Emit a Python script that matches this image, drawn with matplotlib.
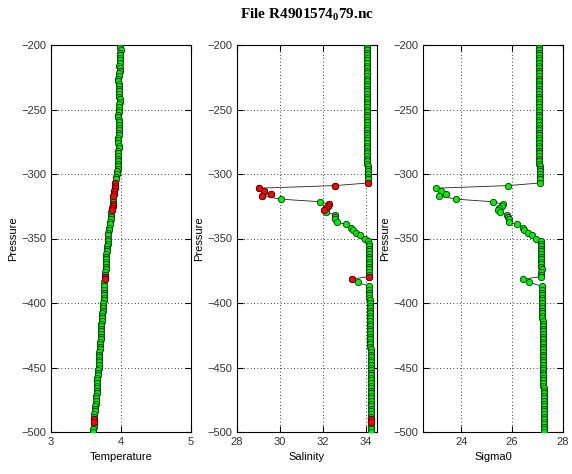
import matplotlib
matplotlib.use('Agg')
import matplotlib.pyplot as plt
import numpy as np

# pressure levels (dbar, positive down)
pres = [200, 202, 204, 206, 208, 210, 212, 214, 216, 218, 220,
        222, 224, 226, 228, 230, 232, 234, 236, 238, 240, 242,
        244, 246, 248, 250, 252, 254, 256, 258, 260, 262, 264,
        266, 268, 270, 272, 274, 276, 278, 280, 282, 284, 286,
        288, 290, 292, 294, 296, 298, 300, 302, 304,
        307, 309, 311, 313.5, 315.5, 317, 319.5, 321.5, 323.5, 325, 326.5, 328,
        329.5, 331.5, 333, 335, 337.5, 339, 341.5, 343.5, 345.5, 347.5, 350, 352,
        354, 356, 358, 360, 362, 364, 366, 368, 370, 372, 374, 376, 378,
        379.5, 381.5, 384, 387,
        390, 392, 394, 396, 398, 400, 402, 404, 406, 408, 410,
        412, 414, 416, 418, 420, 422, 424, 426, 428, 430, 432,
        434, 436, 438, 440, 442, 444, 446, 448, 450, 452, 454,
        456, 458, 460, 462, 464, 466, 468, 470, 472, 474, 476,
        478, 480, 482, 484, 486, 488, 490, 492, 494, 496, 498, 500]

temp = [3.99, 3.99, 4.00, 3.99, 3.98, 3.99, 3.98, 3.98, 3.97, 3.98, 3.98,
        3.97, 3.97, 3.96, 3.96, 3.97, 3.97, 3.97, 3.97, 3.97, 3.97, 3.98,
        3.98, 3.97, 3.97, 3.97, 3.97, 3.96, 3.96, 3.97, 3.97, 3.97, 3.97,
        3.97, 3.97, 3.97, 3.96, 3.96, 3.96, 3.97, 3.97, 3.96, 3.96, 3.96,
        3.96, 3.96, 3.95, 3.95, 3.95, 3.94, 3.94, 3.93, 3.93,
        3.92, 3.91, 3.91, 3.90, 3.90, 3.89, 3.89, 3.88, 3.88, 3.88, 3.87, 3.87,
        3.86, 3.86, 3.85, 3.85, 3.84, 3.84, 3.83, 3.83, 3.82, 3.82, 3.81, 3.81,
        3.81, 3.80, 3.80, 3.80, 3.79, 3.79, 3.79, 3.78, 3.78, 3.78, 3.78, 3.77, 3.77,
        3.77, 3.77, 3.76, 3.76,
        3.76, 3.75, 3.75, 3.75, 3.75, 3.74, 3.74, 3.74, 3.74, 3.73, 3.73,
        3.73, 3.73, 3.72, 3.72, 3.72, 3.72, 3.71, 3.71, 3.71, 3.70, 3.70,
        3.70, 3.70, 3.69, 3.69, 3.69, 3.68, 3.68, 3.68, 3.68, 3.67, 3.67,
        3.67, 3.66, 3.66, 3.66, 3.66, 3.65, 3.65, 3.65, 3.64, 3.64, 3.64,
        3.64, 3.63, 3.63, 3.63, 3.62, 3.62, 3.62, 3.61, 3.61, 3.61, 3.60, 3.60]

psal = [34.03, 34.03, 34.02, 34.03, 34.03, 34.04, 34.03, 34.03, 34.03, 34.02, 34.03,
        34.03, 34.03, 34.04, 34.04, 34.03, 34.03, 34.03, 34.03, 34.03, 34.04, 34.03,
        34.03, 34.03, 34.03, 34.04, 34.04, 34.03, 34.03, 34.04, 34.04, 34.04, 34.04,
        34.04, 34.05, 34.05, 34.04, 34.04, 34.04, 34.05, 34.05, 34.05, 34.05, 34.05,
        34.05, 34.05, 34.05, 34.06, 34.06, 34.06, 34.06, 34.07, 34.07,
        34.07, 32.53, 29.02, 29.26, 29.57, 29.18, 30.03, 31.85, 32.28, 32.22, 32.12, 32.05,
        32.14, 32.53, 32.56, 32.56, 32.64, 33.06, 33.30, 33.37, 33.53, 33.73, 33.92, 34.10,
        34.11, 34.12, 34.12, 34.12, 34.13, 34.13, 34.13, 34.12, 34.13, 34.13, 34.14, 34.13, 34.13,
        34.13, 33.33, 33.60, 34.14,
        34.14, 34.15, 34.15, 34.15, 34.16, 34.16, 34.16, 34.16, 34.17, 34.17, 34.17,
        34.17, 34.18, 34.18, 34.18, 34.18, 34.19, 34.19, 34.19, 34.19, 34.19, 34.19,
        34.19, 34.20, 34.20, 34.20, 34.20, 34.20, 34.20, 34.20, 34.21, 34.21, 34.21,
        34.21, 34.21, 34.21, 34.21, 34.21, 34.22, 34.22, 34.22, 34.22, 34.22, 34.22,
        34.22, 34.22, 34.22, 34.23, 34.22, 34.22, 34.23, 34.23, 34.23, 34.23, 34.23, 34.23]

sigma0 = [27.05, 27.05, 27.04, 27.05, 27.05, 27.05, 27.05, 27.05, 27.05, 27.05, 27.05,
          27.05, 27.05, 27.06, 27.06, 27.05, 27.05, 27.05, 27.05, 27.05, 27.06, 27.05,
          27.05, 27.05, 27.05, 27.06, 27.06, 27.06, 27.06, 27.06, 27.06, 27.06, 27.06,
          27.06, 27.07, 27.07, 27.06, 27.06, 27.06, 27.07, 27.07, 27.07, 27.07, 27.07,
          27.07, 27.07, 27.07, 27.08, 27.08, 27.08, 27.08, 27.09, 27.09,
          27.09, 25.82, 23.01, 23.20, 23.41, 23.14, 23.80, 25.24, 25.66, 25.60, 25.50, 25.46,
          25.53, 25.79, 25.82, 25.86, 25.88, 26.21, 26.42, 26.47, 26.64, 26.77, 26.94, 27.12,
          27.13, 27.14, 27.14, 27.14, 27.15, 27.15, 27.15, 27.14, 27.15, 27.15, 27.16, 27.15, 27.15,
          27.15, 26.44, 26.68, 27.16,
          27.16, 27.17, 27.17, 27.17, 27.18, 27.18, 27.18, 27.18, 27.19, 27.19, 27.19,
          27.19, 27.20, 27.20, 27.20, 27.20, 27.21, 27.21, 27.21, 27.21, 27.21, 27.21,
          27.21, 27.22, 27.22, 27.22, 27.22, 27.22, 27.22, 27.22, 27.23, 27.23, 27.23,
          27.23, 27.23, 27.23, 27.23, 27.23, 27.24, 27.24, 27.24, 27.24, 27.24, 27.24,
          27.24, 27.24, 27.24, 27.25, 27.24, 27.24, 27.25, 27.25, 27.25, 27.25, 27.25, 27.25]

# pressures of the points flagged bad (drawn red) in temperature / salinity
bad_pres = [307, 309, 311, 313.5, 315.5, 317, 323.5, 325, 326.5, 328, 379.5, 381.5, 490, 492]

panels = [
    (temp, 'Temperature', (3, 5), [3, 4, 5], True),
    (psal, 'Salinity', (28, 34.5), [28, 30, 32, 34], True),
    (sigma0, 'Sigma0', (22.5, 28), [24, 26, 28], False),
]

plt.rcParams['font.family'] = ['Liberation Sans', 'DejaVu Sans']
plt.rcParams['mathtext.fontset'] = 'custom'
plt.rcParams['mathtext.bf'] = 'Liberation Serif:bold'

fig = plt.figure(figsize=(5.72, 4.74), dpi=100)
lefts = [51, 237, 423]
p = -np.array(pres)
bad = np.isin(pres, bad_pres)

for k, (vals, name, xl, xt, showbad) in enumerate(panels):
    ax = fig.add_axes([lefts[k] / 572, 1 - 432 / 474, 140 / 572, 387 / 474])
    v = np.array(vals)
    ax.plot(v, p, '-', color='#222222', lw=0.6, zorder=2)
    ax.plot(v, p, 'o', ms=4.6, mfc='#00ee00', mec='#103010', mew=0.6, zorder=3)
    if showbad:
        ax.plot(v[bad], p[bad], 'o', ms=4.6, mfc='#ff0000', mec='#301010', mew=0.6, zorder=4)
    ax.set_xlim(xl)
    ax.set_ylim(-500, -200)
    ax.set_xticks(xt)
    ax.set_yticks([-500, -450, -400, -350, -300, -250, -200])
    ax.grid(True, color='k', linestyle=(0, (1, 3)), lw=0.6)
    ax.tick_params(direction='in', top=True, right=True, labelsize=8, length=4, colors='k')
    for lab in ax.get_xticklabels() + ax.get_yticklabels():
        lab.set_color('#333333')
    ax.set_xlabel(name, fontsize=8)
    ax.set_ylabel('Pressure', fontsize=8, labelpad=2.5)
    for s in ax.spines.values():
        s.set_linewidth(0.8)

fig.text((237 + 70) / 572, 1 - 15 / 474, 'File R4901574$_\\mathbf{0}$79.nc',
         ha='center', va='center', fontsize=11, fontweight='bold',
         family='Liberation Serif')

fig.savefig('out.png', dpi=100)
